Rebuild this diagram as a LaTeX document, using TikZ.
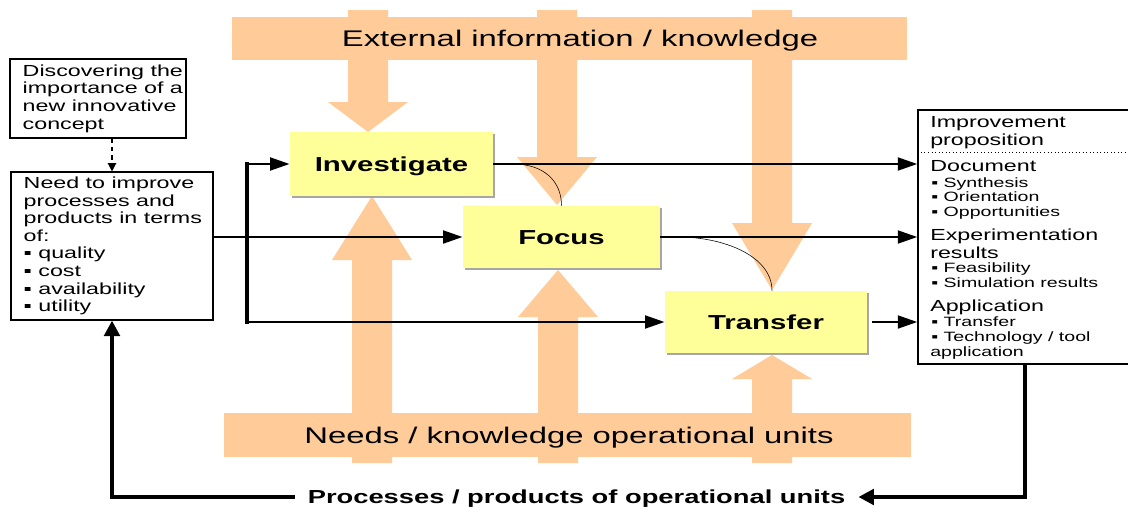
\documentclass[tikz,border=0pt]{standalone}
\usepackage{fontspec}
\setmainfont{Liberation Sans}[FakeStretch=1.45]
\usetikzlibrary{arrows.meta,calc,positioning,shadows}

\definecolor{peach}{RGB}{255,204,153}
\definecolor{lemon}{RGB}{255,255,153}

\tikzset{
  stage/.style={fill=lemon, inner sep=0pt, text height=10.3pt, text depth=0pt,
    drop shadow={shadow xshift=1.4pt, shadow yshift=-1.4pt, fill=black!35, opacity=1},
    font=\fontsize{14.4}{16}\selectfont\bfseries},
  note/.style={draw, line width=0.8pt, fill=white, inner sep=0pt},
  notetext/.style={align=left, inner sep=0pt, font=\fontsize{11.4}{12.5}\selectfont},
  headtext/.style={anchor=base west, inner sep=0pt, font=\fontsize{11.4}{12.5}\selectfont},
  bullettext/.style={anchor=base west, inner sep=0pt, font=\fontsize{9.6}{10.7}\selectfont},
  bandtext/.style={anchor=base, inner sep=0pt, font=\fontsize{16.1}{18}\selectfont},
  flow/.style={line width=2.1pt, -{Triangle[length=14pt,width=9pt]}},
  loopline/.style={line width=2.6pt, -{Triangle[length=11pt,width=11pt]}},
}

\begin{document}
\begin{tikzpicture}[x=0.025cm,y=-0.025cm]
\pgfmathsetmacro{\pix}{0.025} % one unit in cm
\useasboundingbox (0,0) rectangle (1128,506);
\fill[white] (0,0) rectangle (1128,506);

% knowledge bands
\fill[peach] (232,17) rectangle (907,60);
\fill[peach] (224,413) rectangle (911,457);

% arrows down from the top band
\foreach \c/\b/\t in {368/102/132, 557/157/205, 772/223/290}
  \fill[peach] (\c-20,10) -- (\c+20,10) -- (\c+20,\b) -- (\c+40,\b) -- (\c,\t)
    -- (\c-40,\b) -- (\c-20,\b) -- cycle;

% arrows up from the bottom band
\foreach \c/\b/\t in {372/260/196, 558/317/270, 772/379/355}
  \fill[peach] (\c-20,463) -- (\c+20,463) -- (\c+20,\b) -- (\c+40,\b) -- (\c,\t)
    -- (\c-40,\b) -- (\c-20,\b) -- cycle;

\node[bandtext] (extinfo) at (580,46) {External information / knowledge};
\node[bandtext] (opneeds) at (569,443) {Needs / knowledge operational units};

% stages
\node[stage, minimum width={203*\pix cm}, minimum height={64*\pix cm}] (invest) at (391.5,164) {Investigate};
\node[stage, minimum width={197*\pix cm}, minimum height={62*\pix cm}] (focus) at (561.5,237) {Focus};
\node[stage, minimum width={202*\pix cm}, minimum height={62*\pix cm}] (transfer) at (766,322) {Transfer};

% left notes
\node[note, minimum width={176*\pix cm}, minimum height={79*\pix cm}] (discover) at (98,98.5) {};
\node[notetext, anchor=west] (discovertxt) at ($(discover.west)+(13,0)$)
  {Discovering the\\importance of a\\new innovative\\concept};
\node[note, minimum width={202*\pix cm}, minimum height={148*\pix cm}] (need) at (112,246) {};
\node[notetext, anchor=west] (needtxt) at ($(need.west)+(13,0)$)
  {Need to improve\\processes and\\products in terms\\of:\\▪ quality\\▪ cost\\▪ availability\\▪ utility};

% results
\node[note, minimum width={214*\pix cm}, minimum height={254*\pix cm}] (out) at (1025,237) {};
\coordinate (sep) at (930,152);
\draw[dotted, line width=0.5pt] (out.west |- sep) -- (out.east |- sep);
\foreach \y/\t [count=\i] in {127/Improvement, 145/proposition, 171.5/Document,
    240.5/Experimentation, 258/results, 311/Application}
  \node[headtext] (head\i) at (930,\y) {\t};
\foreach \y/\t [count=\i] in {187.5/Synthesis, 201.5/Orientation, 216.5/Opportunities,
    272.5/Feasibility, 287.5/Simulation results, 326.5/Transfer, 341.5/{Technology / tool}}
  \node[bullettext] (item\i) at (931,\y) {▪ \t};
\node[bullettext] (item8) at (930,356.5) {application};

% links between stages
\draw[thin] ($(invest.east)+(20,0)$) .. controls +(30,0) and +(0,-25) .. (focus.north);
\draw[thin] ($(focus.east)+(18,0)$) .. controls +(45,0) and +(0,-35) .. ($(transfer.north)+(6,0)$);

% flows
\draw[dashed, line width=0.9pt, -{Triangle[length=6pt,width=6pt]}] (discover.south -| need.north) -- (need.north);
\draw[flow] (need.east |- focus.west) -- (focus.west);
\coordinate (split) at (247,238);
\draw[line width=2.6pt, line cap=rect] (split |- invest.west) -- (split |- transfer.west);
\draw[flow] (split |- invest.west) -- (invest.west);
\draw[flow] (split |- transfer.west) -- (transfer.west);
\draw[flow] (invest.east) -- (invest.east -| out.west);
\draw[flow] (focus.east) -- (focus.east -| out.west);
\draw[flow] ($(transfer.east)+(5,0)$) -- (transfer.east -| out.west);

% feedback loop
\node[inner xsep=9.2pt, inner ysep=0pt, text height=9.6pt, text depth=0pt,
  font=\fontsize{13.4}{15}\selectfont\bfseries] (proc) at (576.5,497) {Processes / products of operational units};
\draw[loopline] (out.south) |- (proc.east);
\draw[loopline] (proc.west) -| (need.south);

\end{tikzpicture}
\end{document}
